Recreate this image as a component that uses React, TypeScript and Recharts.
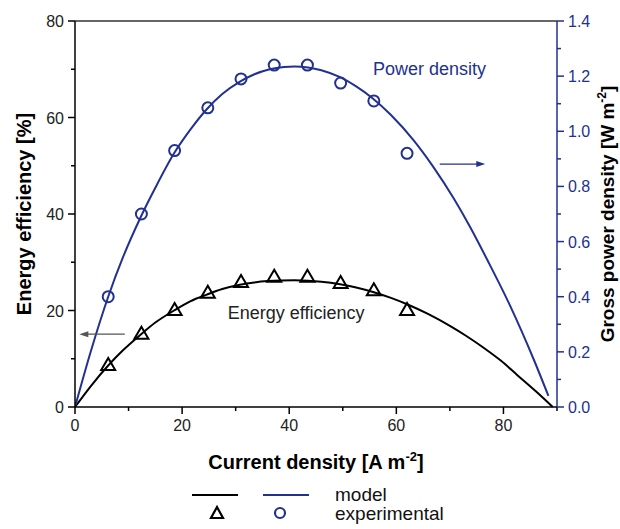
import React from 'react';
import {
  ComposedChart, Line, Scatter, XAxis, YAxis, ReferenceLine, ReferenceDot, Label,
} from 'recharts';

// ---- data ----
const modelEffX = [0, 3, 6.2, 9, 12.3, 15, 18.5, 21.5, 24.6, 27.5, 30.8, 33.5, 36, 38.5, 41, 43.5, 46, 49.5, 52.5, 55.8, 59, 62, 66, 70, 73, 76.3, 79.5, 82.6, 86, 89.2];
const modelEffY = [0, 4.4, 8.6, 11.8, 15.05, 17.5, 20.0, 21.9, 23.3, 24.45, 25.34, 25.82, 26.09, 26.22, 26.25, 26.18, 25.97, 25.44, 24.77, 23.79, 22.61, 21.3, 19.24, 16.81, 14.76, 12.27, 9.62, 6.6, 3.3, 0];

const modelPowX = [0, 3, 6.2, 9, 12.3, 15, 18.5, 21.5, 24.6, 27.5, 30.8, 33.5, 36.4, 39, 41, 43.5, 46, 49.4, 52.5, 55.5, 59, 63.2, 66.9, 70.7, 73.8, 77, 81.3, 85.6, 88.4];
const modelPowY = [0, 0.205, 0.4, 0.545, 0.69, 0.795, 0.92, 1.005, 1.08, 1.135, 1.18, 1.207, 1.225, 1.233, 1.235, 1.2316, 1.2215, 1.197, 1.163, 1.121, 1.059, 0.968, 0.871, 0.757, 0.652, 0.533, 0.365, 0.175, 0.04];

const expX = [6.2, 12.4, 18.6, 24.8, 31.0, 37.2, 43.4, 49.6, 55.8, 62.0];
const expEff = [8.7, 15.2, 20.1, 23.7, 25.9, 27.0, 27.0, 25.7, 24.2, 20.1];
const expPow = [0.40, 0.70, 0.93, 1.085, 1.19, 1.24, 1.24, 1.175, 1.11, 0.92];

const xTicks = [0, 10, 20, 30, 40, 50, 60, 70, 80, 90];
const leftTicks = [0, 10, 20, 30, 40, 50, 60, 70, 80];
const rightTicks = [0, 0.1, 0.2, 0.3, 0.4, 0.5, 0.6, 0.7, 0.8, 0.9, 1.0, 1.1, 1.2, 1.3, 1.4];

const BLUE = '#22318f';
const FONT = '"Liberation Sans", Arial, sans-serif';

const effLine = modelEffX.map((x, i) => ({ x, y: modelEffY[i] }));
const powLine = modelPowX.map((x, i) => ({ x, y: modelPowY[i] }));
const effPts = expX.map((x, i) => ({ x, y: expEff[i] }));
const powPts = expX.map((x, i) => ({ x, y: expPow[i] }));

const XTick = (p: any) => {
  const { x, y, payload } = p;
  const major = payload.value % 20 === 0;
  return (
    <g>
      <line x1={x} x2={x} y1={y} y2={y + (major ? 7 : 4)} stroke="#000" strokeWidth={1.5} />
      {major && (
        <text x={x} y={y + 24} textAnchor="middle" fontSize={16} fill="#222" fontFamily={FONT}>{payload.value}</text>
      )}
    </g>
  );
};

const LeftTick = (p: any) => {
  const { x, y, payload } = p;
  const major = payload.value % 20 === 0;
  return (
    <g>
      <line x1={x} x2={x - (major ? 7 : 4)} y1={y} y2={y} stroke="#000" strokeWidth={1.5} />
      {major && (
        <text x={x - 11} y={y + 6} textAnchor="end" fontSize={16} fill="#222" fontFamily={FONT}>{payload.value}</text>
      )}
    </g>
  );
};

const RightTick = (p: any) => {
  const { x, y, payload } = p;
  const major = Math.round(payload.value * 10) % 2 === 0;
  return (
    <g>
      <line x1={x} x2={x + (major ? 7 : 4)} y1={y} y2={y} stroke={BLUE} strokeWidth={1.5} />
      {major && (
        <text x={x + 11} y={y + 6} textAnchor="start" fontSize={16} fill={BLUE} fontFamily={FONT}>{payload.value.toFixed(1)}</text>
      )}
    </g>
  );
};

const Triangle = (p: any) => {
  const { cx, cy } = p;
  if (cx == null || cy == null) return null;
  return <polygon points={`${cx},${cy - 7} ${cx - 7},${cy + 5} ${cx + 7},${cy + 5}`} fill="none" stroke="#000" strokeWidth={2} />;
};

const Circle = (p: any) => {
  const { cx, cy } = p;
  if (cx == null || cy == null) return null;
  return <circle cx={cx} cy={cy} r={5.5} fill="none" stroke={BLUE} strokeWidth={2} />;
};

const XTitle = (p: any) => {
  const vb = p.viewBox;
  const cx = vb.x + vb.width / 2;
  return (
    <text x={cx} y={vb.y + 62} textAnchor="middle" fontSize={20} fontWeight="bold" fill="#000" fontFamily={FONT}>
      Current density [A m<tspan dy={-8} fontSize={13}>-2</tspan><tspan dy={8}>]</tspan>
    </text>
  );
};

const LeftTitle = (p: any) => {
  const vb = p.viewBox;
  const cy = vb.y + vb.height / 2;
  const cx = 31;
  return (
    <text x={cx} y={cy} transform={`rotate(-90 ${cx} ${cy})`} textAnchor="middle" fontSize={20} fontWeight="bold" fill="#000" fontFamily={FONT}>
      Energy efficiency [%]
    </text>
  );
};

const RightTitle = (p: any) => {
  const vb = p.viewBox;
  const cy = vb.y + vb.height / 2;
  const cx = 614;
  return (
    <text x={cx} y={cy} transform={`rotate(-90 ${cx} ${cy})`} textAnchor="middle" fontSize={19} fontWeight="bold" fill="#000" fontFamily={FONT}>
      Gross power density [W m<tspan dy={-8} fontSize={12}>-2</tspan><tspan dy={8}>]</tspan>
    </text>
  );
};

const makeText = (txt: string, color: string) => (p: any) => {
  const { cx, cy } = p;
  return (
    <text x={cx} y={cy + 6} textAnchor="middle" fontSize={18} fill={color} fontFamily={FONT}>{txt}</text>
  );
};

const ArrowLeftHead = (p: any) => {
  const { cx, cy } = p;
  return <polygon points={`${cx},${cy} ${cx + 9},${cy - 3} ${cx + 9},${cy + 3}`} fill="#555" />;
};
const ArrowRightHead = (p: any) => {
  const { cx, cy } = p;
  return <polygon points={`${cx},${cy} ${cx - 9},${cy - 3} ${cx - 9},${cy + 3}`} fill={BLUE} />;
};

const Legend = () => (
  <svg width={620} height={60} style={{ position: 'absolute', left: 0, top: 475 }}>
    <line x1={192} x2={238} y1={20} y2={20} stroke="#000" strokeWidth={2} />
    <line x1={263} x2={309} y1={20} y2={20} stroke={BLUE} strokeWidth={2} />
    <text x={335} y={26} fontSize={19} fill="#111" fontFamily={FONT}>model</text>
    <polygon points={`217,${38 - 6} 211,${38 + 5} 223,${38 + 5}`} fill="none" stroke="#000" strokeWidth={2.2} />
    <circle cx={280} cy={38} r={5} fill="none" stroke={BLUE} strokeWidth={2.2} />
    <text x={335} y={45} fontSize={19} fill="#111" fontFamily={FONT}>experimental</text>
  </svg>
);

export default function App() {
  return (
    <div style={{ position: 'absolute', left: 0, top: 0, width: 620, height: 529, background: '#fff' }}>
      <ComposedChart width={620} height={529} margin={{ top: 21, right: 0, bottom: 0, left: 0 }} style={{ fontFamily: FONT }}>
        <XAxis
          xAxisId="b"
          dataKey="x"
          type="number"
          domain={[0, 90]}
          ticks={xTicks}
          allowDataOverflow
          height={122}
          axisLine={{ stroke: '#000', strokeWidth: 1.5 }}
          tickLine={false}
          tickSize={0}
          tickMargin={0}
          tick={<XTick />}
          interval={0}
        >
          <Label content={<XTitle />} />
        </XAxis>
        <YAxis
          yAxisId="left"
          type="number"
          domain={[0, 80]}
          ticks={leftTicks}
          width={75}
          axisLine={{ stroke: '#000', strokeWidth: 1.5 }}
          tickLine={false}
          tickSize={0}
          tickMargin={0}
          tick={<LeftTick />}
          interval={0}
        >
          <Label content={<LeftTitle />} />
        </YAxis>
        <YAxis
          yAxisId="right"
          orientation="right"
          type="number"
          domain={[0, 1.4]}
          ticks={rightTicks}
          width={63}
          axisLine={{ stroke: BLUE, strokeWidth: 1.5 }}
          tickLine={false}
          tickSize={0}
          tickMargin={0}
          tick={<RightTick />}
          interval={0}
        >
          <Label content={<RightTitle />} />
        </YAxis>
        <ReferenceLine xAxisId="b" yAxisId="left" y={80} stroke="#333" strokeWidth={1.5} />

        <Line xAxisId="b" yAxisId="left" data={effLine} dataKey="y" type="monotone" stroke="#000" strokeWidth={2} dot={false} isAnimationActive={false} />
        <Line xAxisId="b" yAxisId="right" data={powLine} dataKey="y" type="monotone" stroke={BLUE} strokeWidth={2} dot={false} isAnimationActive={false} />
        <Scatter xAxisId="b" yAxisId="left" data={effPts} dataKey="y" shape={<Triangle />} isAnimationActive={false} />
        <Scatter xAxisId="b" yAxisId="right" data={powPts} dataKey="y" shape={<Circle />} isAnimationActive={false} />

        <ReferenceLine xAxisId="b" yAxisId="left" segment={[{ x: 9.3, y: 15.1 }, { x: 2.0, y: 15.1 }]} stroke="#555" strokeWidth={1.3} />
        <ReferenceDot xAxisId="b" yAxisId="left" x={0.8} y={15.1} shape={<ArrowLeftHead />} />
        <ReferenceLine xAxisId="b" yAxisId="right" segment={[{ x: 68.1, y: 0.881 }, { x: 75.5, y: 0.881 }]} stroke={BLUE} strokeWidth={1.3} />
        <ReferenceDot xAxisId="b" yAxisId="right" x={76.6} y={0.881} shape={<ArrowRightHead />} />

        <ReferenceDot xAxisId="b" yAxisId="left" x={41.3} y={19.5} shape={makeText('Energy efficiency', '#222')} />
        <ReferenceDot xAxisId="b" yAxisId="left" x={66.2} y={70} shape={makeText('Power density', BLUE)} />
      </ComposedChart>
      <Legend />
    </div>
  );
}
